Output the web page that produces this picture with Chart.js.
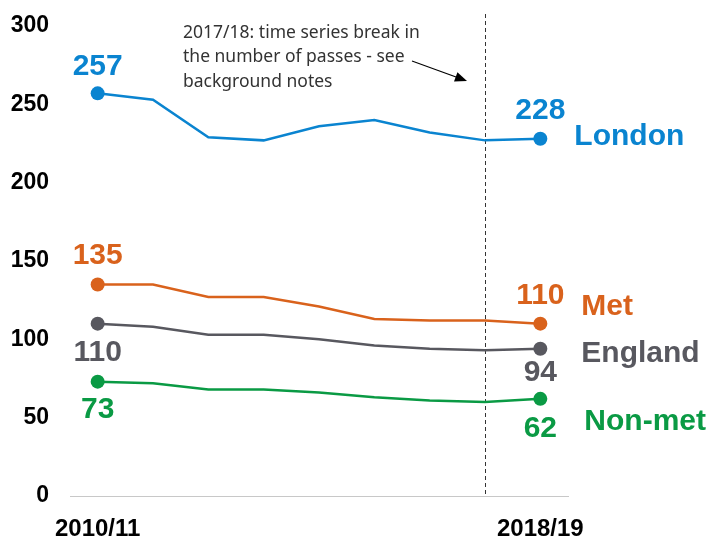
<!DOCTYPE html>
<html>
<head>
<meta charset="utf-8">
<script src="https://cdn.jsdelivr.net/npm/chart.js@4"></script>
<style>
  html, body { margin: 0; padding: 0; background: #fff; }
  #wrap { width: 707px; height: 538px; position: relative; }
</style>
</head>
<body>
<div id="wrap"><canvas id="passesChart"></canvas></div>
<script>
const years = ['2010/11', '2011/12', '2012/13', '2013/14', '2014/15', '2015/16', '2016/17', '2017/18', '2018/19'];
const london = [257, 253, 229, 227, 236, 240, 232, 227, 228];
const met = [135, 135, 127, 127, 121, 113, 112, 112, 110];
const england = [110, 108, 103, 103, 100, 96, 94, 93, 94];
const nonMet = [73, 72, 68, 68, 66, 63, 61, 60, 62];
const seriesNames = ['London', 'Met', 'England', 'Non-met'];
const yTicks = [0, 50, 100, 150, 200, 250, 300];
const breakYear = '2017/18';
const noteLines = ['2017/18: time series break in', 'the number of passes - see', 'background notes'];

const colors = ['#0a84d0', '#d9621c', '#58585f', '#0a9a44'];
// vertical offset of the first/last value labels from their points
const labelShift = [[-27, -28], [-29, -28], [29, 24], [28, 30]];
// offsets of the series names from the last point
const nameOffset = [[34, -2], [41, -17], [41, 5], [44, 23]];

const lastIdx = years.length - 1;
const pointRadius = (ctx) => (ctx.dataIndex === 0 || ctx.dataIndex === lastIdx) ? 7 : 0;

const endLabels = {
  id: 'endLabels',
  afterDatasetsDraw(chart) {
    const c = chart.ctx;
    const x = chart.scales.x, y = chart.scales.y;
    c.save();
    c.textBaseline = 'middle';
    c.font = 'bold 30px "Liberation Sans", Arial, sans-serif';
    chart.data.datasets.forEach((ds, i) => {
      c.fillStyle = colors[i];
      c.textAlign = 'center';
      [0, lastIdx].forEach((j, k) => {
        const px = x.getPixelForValue(j);
        const py = y.getPixelForValue(ds.data[j]);
        c.fillText(String(ds.data[j]), px, py + labelShift[i][k]);
      });
      const lx = x.getPixelForValue(lastIdx) + nameOffset[i][0];
      const ly = y.getPixelForValue(ds.data[lastIdx]) + nameOffset[i][1];
      c.textAlign = 'left';
      c.fillText(seriesNames[i], lx, ly);
    });
    c.restore();
  }
};

const breakLine = {
  id: 'breakLine',
  beforeDatasetsDraw(chart) {
    const c = chart.ctx;
    const px = Math.round(chart.scales.x.getPixelForValue(years.indexOf(breakYear))) + 0.5;
    c.save();
    c.strokeStyle = '#333';
    c.lineWidth = 1;
    c.setLineDash([4, 3]);
    c.beginPath();
    c.moveTo(px, 14);
    c.lineTo(px, chart.chartArea.bottom);
    c.stroke();
    c.setLineDash([]);
    // note text
    c.fillStyle = '#333';
    c.font = '17.5px "Noto Sans", "Liberation Sans", sans-serif';
    c.textAlign = 'left';
    c.textBaseline = 'middle';
    noteLines.forEach((t, k) => c.fillText(t, 183, 33 + k * 24.5));
    // arrow
    const x0 = 412, y0 = 61, x1 = 467, y1 = 81;
    const ang = Math.atan2(y1 - y0, x1 - x0);
    c.strokeStyle = '#000';
    c.lineWidth = 1.2;
    c.beginPath();
    c.moveTo(x0, y0);
    c.lineTo(x1 - 8 * Math.cos(ang), y1 - 8 * Math.sin(ang));
    c.stroke();
    c.fillStyle = '#000';
    c.beginPath();
    c.moveTo(x1, y1);
    c.lineTo(x1 - 12 * Math.cos(ang) + 5 * Math.sin(ang), y1 - 12 * Math.sin(ang) - 5 * Math.cos(ang));
    c.lineTo(x1 - 12 * Math.cos(ang) - 5 * Math.sin(ang), y1 - 12 * Math.sin(ang) + 5 * Math.cos(ang));
    c.closePath();
    c.fill();
    c.restore();
  }
};

const series = [london, met, england, nonMet];
new Chart(document.getElementById('passesChart').getContext('2d'), {
  type: 'line',
  data: {
    labels: years,
    datasets: series.map((d, i) => ({
      label: seriesNames[i],
      data: d,
      borderColor: colors[i],
      backgroundColor: colors[i],
      borderWidth: 2.5,
      tension: 0,
      fill: false,
      pointRadius: pointRadius,
      pointHoverRadius: pointRadius,
      pointBorderWidth: 0
    }))
  },
  options: {
    responsive: true,
    maintainAspectRatio: false,
    animation: false,
    layout: { padding: { top: 26, right: 139, bottom: 0, left: 0 } },
    plugins: {
      legend: { display: false },
      tooltip: { enabled: false }
    },
    scales: {
      x: {
        offset: true,
        grid: { display: false },
        border: { display: true, color: '#c8c8c8', width: 1 },
        afterFit: (s) => { s.height = 42; s.paddingLeft = 0; s.paddingRight = 0; },
        ticks: {
          autoSkip: false,
          maxRotation: 0,
          padding: 11,
          color: '#000',
          font: { family: '"Liberation Sans", Arial, sans-serif', size: 24, weight: 'bold' },
          callback: (v, i) => (i === 0 || i === lastIdx) ? years[i] : ''
        }
      },
      y: {
        min: 0,
        max: 300,
        afterBuildTicks: (s) => { s.ticks = yTicks.map(v => ({ value: v })); },
        grid: { display: false, drawTicks: false },
        border: { display: false },
        afterFit: (s) => { s.width = 70; s.paddingTop = 0; s.paddingBottom = 0; },
        ticks: {
          padding: 21,
          color: '#000',
          font: { family: '"Liberation Sans", Arial, sans-serif', size: 23, weight: 'bold' }
        }
      }
    }
  },
  plugins: [breakLine, endLabels]
});
</script>
</body>
</html>
